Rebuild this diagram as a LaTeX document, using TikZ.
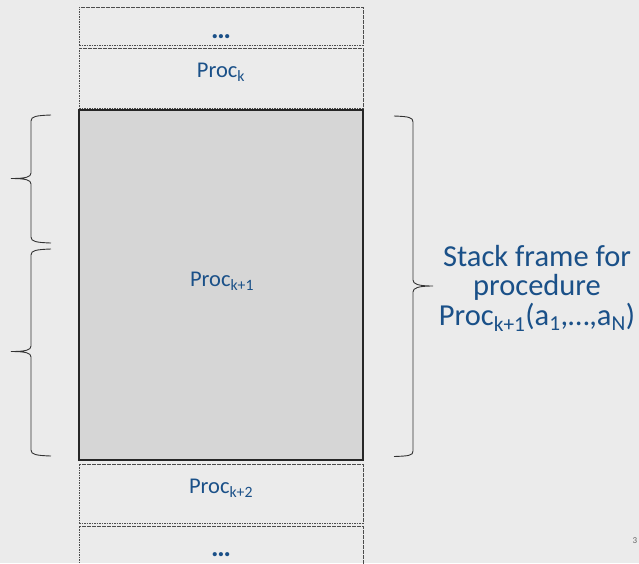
\documentclass[tikz,border=0pt]{standalone}
\usepackage{fontspec}
\setmainfont{Carlito}
\definecolor{bg}{HTML}{EBEBEB}
\definecolor{framefill}{HTML}{D6D6D6}
\definecolor{txtblue}{HTML}{1A5088}
\begin{document}
\begin{tikzpicture}[x=1pt,y=-1pt,
  dashbox/.style={draw=black!70, dash pattern=on 1.6pt off 0.9pt, line width=0.9pt, inner sep=0pt, minimum width=284pt},
  solidbox/.style={draw=black!85, line width=1.2pt, fill=framefill, inner sep=0pt, minimum width=284pt},
  lbl/.style={text=txtblue, font=\fontsize{22.5}{26}\selectfont, inner sep=0pt},
  dots/.style={text=txtblue, font=\fontsize{28}{28}\selectfont\bfseries, inner sep=0pt},
  desc/.style={text=txtblue, font=\fontsize{30.5}{29.5}\selectfont, align=center, inner sep=0pt},
  brc/.style={draw=black!80, line width=0.9pt}]
\fill[bg] (0,0) rectangle (639,563);
\useasboundingbox (0,0) rectangle (639,563);
% stack boxes
\node[dashbox, minimum height=38pt] (topbox) at (221,26) {};
\node[dashbox, minimum height=60pt] (kbox) at (221,78) {};
\node[solidbox, minimum height=350pt] (frame) at (221,285) {};
\node[dashbox, minimum height=59pt] (k2box) at (221,493.5) {};
\node[dashbox, minimum height=44pt] (botbox) at (221,548) {};
% labels
\node[dots] (topdots) at (221,37) {…};
\node[lbl] (klbl) at (221,72) {Proc\textsubscript{k}};
\node[lbl] (k1lbl) at (222,281) {Proc\textsubscript{k+1}};
\node[lbl] (k2lbl) at (221,488) {Proc\textsubscript{k+2}};
\node[dots] (botdots) at (221,555) {…};
\node[desc] (desc) at (537,288.5) {Stack frame for\\procedure\\Proc\textsubscript{k+1}(a\textsubscript{1},…,a\textsubscript{N})};
\node[text=black!60, font=\fontsize{9}{9}\selectfont, inner sep=0pt] (pgnum) at (635,541) {3};
% left brace 1
\draw[brc] (51,115) .. controls (36,115.5) and (31,116.5) .. (31,121) -- (31,173)
  .. controls (31,177) and (26,178.5) .. (11,178.5)
  .. controls (26,178.5) and (31,180) .. (31,184) -- (31,237)
  .. controls (31,241.5) and (36,242.5) .. (51,243);
% left brace 2
\draw[brc] (51,249) .. controls (36,249.5) and (31,250.5) .. (31,255) -- (31,346)
  .. controls (31,350) and (26,351.5) .. (11,351.5)
  .. controls (26,351.5) and (31,353) .. (31,357) -- (31,450)
  .. controls (31,454.5) and (36,455.5) .. (51,456);
% right brace
\draw[brc] (394,116) .. controls (409,116.5) and (413,117.5) .. (413,122) -- (413,280)
  .. controls (413,284) and (418,286) .. (433,286)
  .. controls (418,286) and (413,288) .. (413,292) -- (413,451)
  .. controls (413,455.5) and (409,456) .. (394,456.5);
\end{tikzpicture}
\end{document}
